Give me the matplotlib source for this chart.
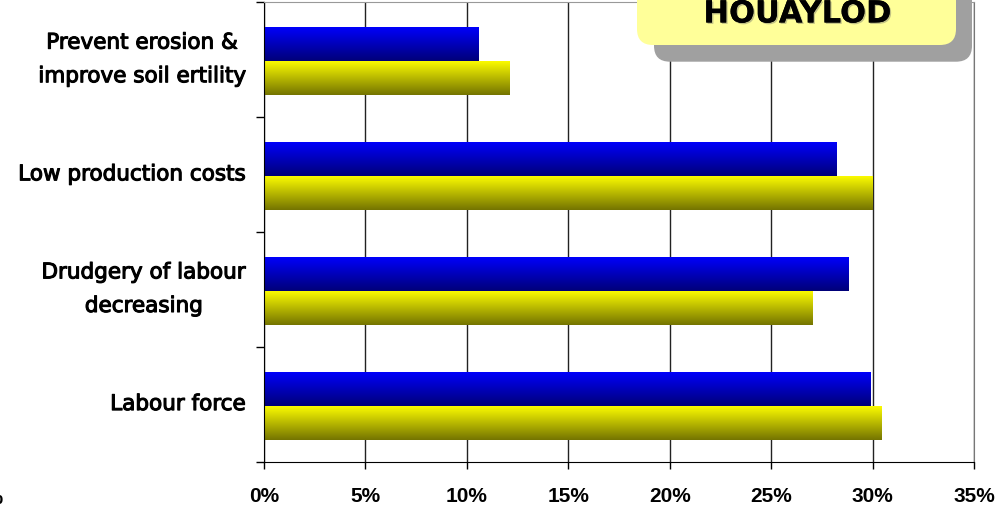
import matplotlib.pyplot as plt
import numpy as np
from matplotlib.colors import LinearSegmentedColormap
from matplotlib.patches import FancyBboxPatch
import matplotlib.patheffects as pe

# reasons, listed bottom to top
categories = ["Labour force",
              "Drudgery of labour\ndecreasing",
              "Low production costs",
              "Prevent erosion &\nimprove soil ertility"]
blue_vals = [29.9, 28.8, 28.2, 10.55]
yellow_vals = [30.45, 27.05, 30.0, 12.1]
xticks = [0, 5, 10, 15, 20, 25, 30, 35]
xtick_labels = ["0%", "5%", "10%", "15%", "20%", "25%", "30%", "35%"]
title = "HOUAYLOD"


def gradient_fill(ax, bars, top, bottom):
    cmap = LinearSegmentedColormap.from_list("grad", [bottom, top])
    grad = np.linspace(1, 0, 256).reshape(-1, 1)
    for b in bars:
        x0, y0 = b.get_x(), b.get_y()
        w, h = b.get_width(), b.get_height()
        im = ax.imshow(grad, cmap=cmap, extent=(x0, x0 + w, y0, y0 + h),
                       origin="upper", aspect="auto", zorder=2,
                       interpolation="bilinear")
        im.set_clip_path(b)
        b.set_facecolor("none")


fig = plt.figure(figsize=(9.96, 5.10), dpi=100)
ax = fig.add_axes([264 / 996, 1 - 462.5 / 510, 710 / 996, 459.5 / 510])

y = np.arange(len(categories))
h = 0.296
off = 0.013
blue = ax.barh(y + h / 2 - off, blue_vals, height=h, edgecolor="none", zorder=2)
yellow = ax.barh(y - h / 2 - off, yellow_vals, height=h, edgecolor="none", zorder=2)
gradient_fill(ax, blue, "#0000FF", "#000078")
gradient_fill(ax, yellow, "#FFFF00", "#747400")

ax.set_xlim(0, 35)
ax.set_ylim(-0.5, 3.5)

ax.set_xticks(xticks)
ax.set_xticklabels(xtick_labels, fontfamily="Liberation Sans",
                   fontweight="bold", fontsize=15)
ax.tick_params(axis="x", direction="out", length=5, width=1, pad=13)

ax.set_yticks(np.arange(-0.5, 4, 1))
ax.set_yticklabels([])
ax.set_yticks(y, minor=True)
ax.set_yticklabels(categories, minor=True, fontfamily="DejaVu Sans",
                   fontsize=15.5, linespacing=1.85)
for lab in ax.get_yticklabels(minor=True):
    lab.set_multialignment("center")
    lab.set_verticalalignment("center")
    lab.set_path_effects([pe.withStroke(linewidth=0.8, foreground="black")])
ax.tick_params(axis="y", which="major", direction="out", length=6, width=1)
ax.tick_params(axis="y", which="minor", length=0, pad=13)

ax.grid(axis="x", color="#222222", linewidth=1)
ax.set_axisbelow(True)
ax.spines["top"].set_color("#999999")
ax.spines["right"].set_color("#777777")
ax.spines["left"].set_color("black")
ax.spines["bottom"].set_color("black")

# clipped label from the neighbouring chart
fig.text(3 / 996, 1 - 504 / 510, "0%", ha="right", va="baseline",
         fontfamily="Liberation Sans", fontweight="bold", fontsize=15)

# title box with drop shadow, in pixel coordinates
ov = fig.add_axes([0, 0, 1, 1], zorder=10)
ov.set_xlim(0, 996)
ov.set_ylim(510, 0)
ov.axis("off")
ov.add_patch(FancyBboxPatch((654, -40), 318, 102.7,
                            boxstyle="round,pad=0,rounding_size=16",
                            fc="#A0A0A0", ec="none"))
ov.add_patch(FancyBboxPatch((637, -40), 319, 86,
                            boxstyle="round,pad=0,rounding_size=16",
                            fc="#FFFF99", ec="none"))
ov.text(797, 23.5, title, ha="center", va="baseline", fontfamily="DejaVu Sans",
        fontweight="bold", fontsize=22, color="black",
        path_effects=[pe.withSimplePatchShadow(offset=(1, -1),
                                               shadow_rgbFace="#666666", alpha=0.4),
                      pe.Normal()])

fig.savefig("out.png", dpi=100)
